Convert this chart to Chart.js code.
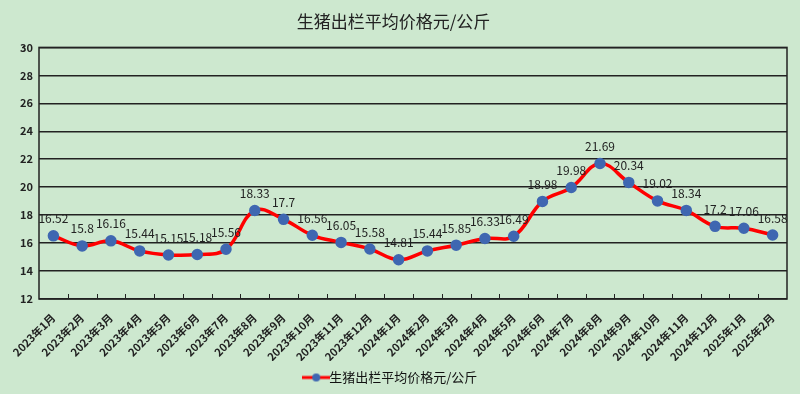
<!DOCTYPE html>
<html>
<head>
<meta charset="utf-8">
<script src="https://cdn.jsdelivr.net/npm/chart.js@4"></script>
<style>
  html, body { margin: 0; padding: 0; background: #cde8cf; }
  #wrap { width: 800px; height: 394px; }
</style>
</head>
<body>
<div id="wrap"><canvas id="priceChart"></canvas></div>
<script>
var months = ['2023年1月', '2023年2月', '2023年3月', '2023年4月', '2023年5月', '2023年6月',
    '2023年7月', '2023年8月', '2023年9月', '2023年10月', '2023年11月', '2023年12月',
    '2024年1月', '2024年2月', '2024年3月', '2024年4月', '2024年5月', '2024年6月',
    '2024年7月', '2024年8月', '2024年9月', '2024年10月', '2024年11月', '2024年12月',
    '2025年1月', '2025年2月'];
var prices = [16.52, 15.8, 16.16, 15.44, 15.15, 15.18, 15.56, 18.33, 17.7, 16.56, 16.05, 15.58,
    14.81, 15.44, 15.85, 16.33, 16.49, 18.98, 19.98, 21.69, 20.34, 19.02, 18.34, 17.2,
    17.06, 16.58];
var yMin = 12, yMax = 30, yStep = 2;
var seriesName = '生猪出栏平均价格元/公斤';

var fontFamily = '"Noto Sans CJK SC", "Noto Sans", sans-serif';
Chart.defaults.font.family = fontFamily;
Chart.defaults.color = '#222';

// legend icon: red line with blue dot
var legendIcon = document.createElement('canvas');
legendIcon.width = 28;
legendIcon.height = 10;
(function () {
    var c = legendIcon.getContext('2d');
    c.strokeStyle = '#ff0000';
    c.lineWidth = 3;
    c.beginPath();
    c.moveTo(0, 5);
    c.lineTo(28, 5);
    c.stroke();
    c.fillStyle = '#3f67b1';
    c.beginPath();
    c.arc(14, 5, 4, 0, Math.PI * 2);
    c.fill();
})();

// value labels above points, frame and inner x ticks
var extras = {
    id: 'extras',
    afterDatasetsDraw: function (chart) {
        var ctx = chart.ctx, area = chart.chartArea, x = chart.scales.x;
        ctx.save();
        ctx.strokeStyle = '#222';
        ctx.lineWidth = 1.5;
        ctx.strokeRect(area.left, area.top, area.right - area.left, area.bottom - area.top);
        ctx.lineWidth = 1;
        ctx.beginPath();
        for (var i = 1; i < months.length; i++) {
            var px = Math.round((x.getPixelForValue(i - 1) + x.getPixelForValue(i)) / 2) + 0.5;
            ctx.moveTo(px, area.bottom);
            ctx.lineTo(px, area.bottom - 5);
        }
        ctx.stroke();

        var meta = chart.getDatasetMeta(0);
        ctx.fillStyle = '#222';
        ctx.font = '12px ' + fontFamily;
        ctx.textAlign = 'center';
        ctx.textBaseline = 'middle';
        meta.data.forEach(function (pt, i) {
            ctx.fillText(String(prices[i]), pt.x, pt.y - 17);
        });
        ctx.restore();
    }
};

new Chart(document.getElementById('priceChart'), {
    type: 'line',
    data: {
        labels: months,
        datasets: [{
            label: seriesName,
            data: prices,
            borderColor: '#ff0000',
            borderWidth: 3.5,
            tension: 0.4,
            pointRadius: 4,
            pointHoverRadius: 4,
            pointBackgroundColor: '#3f67b1',
            pointBorderColor: '#3f67b1',
            pointStyle: 'circle'
        }]
    },
    options: {
        responsive: true,
        maintainAspectRatio: false,
        animation: false,
        layout: { padding: { left: 0, right: 13, top: 0, bottom: 0 } },
        plugins: {
            title: {
                display: true,
                text: seriesName,
                color: '#222',
                font: { size: 17, weight: 'normal' },
                padding: { top: 11, bottom: 16 }
            },
            legend: {
                position: 'bottom',
                labels: {
                    usePointStyle: true,
                    color: '#111',
                    font: { size: 13 },
                    padding: 10,
                    generateLabels: function (chart) {
                        var items = Chart.defaults.plugins.legend.labels.generateLabels(chart);
                        items.forEach(function (it) { it.pointStyle = legendIcon; });
                        return items;
                    }
                }
            },
            tooltip: { enabled: false }
        },
        scales: {
            x: {
                offset: true,
                grid: { display: false },
                border: { display: false },
                ticks: {
                    autoSkip: false,
                    maxRotation: 45,
                    minRotation: 45,
                    color: '#222',
                    font: { size: 11, weight: 'bold' },
                    padding: 4
                },
                afterFit: function (scale) { scale.height = 62; }
            },
            y: {
                min: yMin,
                max: yMax,
                ticks: {
                    stepSize: yStep,
                    color: '#222',
                    font: { size: 11, weight: 'bold' },
                    padding: 6
                },
                grid: { color: '#222', lineWidth: 1.5, drawTicks: false },
                border: { display: false },
                afterFit: function (scale) { scale.width = 39; }
            }
        }
    },
    plugins: [extras]
});
</script>
</body>
</html>
